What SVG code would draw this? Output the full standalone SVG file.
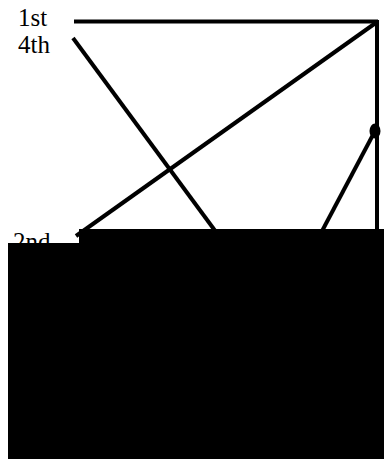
<svg xmlns="http://www.w3.org/2000/svg" width="384" height="461" viewBox="0 0 384 461">
<style>
.lbl{font-family:"Liberation Serif","Times New Roman",serif;font-size:25px;fill:#000}
.ln{stroke:#000;stroke-width:4;fill:none;stroke-linecap:butt}
</style>
<rect width="384" height="461" fill="#fff"/>
<g id="label-1st"><text class="lbl" x="18" y="26">1st</text></g>
<g id="label-4th"><text class="lbl" x="18" y="53">4th</text></g>
<g id="label-2nd"><text class="lbl" x="13" y="249.5">2nd</text></g>
<g id="connectors">
<line class="ln" x1="74" y1="21.5" x2="378" y2="21.5"/>
<line class="ln" x1="377" y1="20" x2="377" y2="232"/>
<line class="ln" x1="377" y1="22" x2="76" y2="236"/>
<line class="ln" x1="73" y1="38" x2="216" y2="232"/>
<line class="ln" x1="375" y1="131" x2="321" y2="233"/>
</g>
<g id="dot"><ellipse cx="375" cy="131" rx="5.5" ry="7.5" fill="#000"/></g>
<g id="mask"><path d="M8,243 H79 V229 H384 V459 H8 Z" fill="#000"/></g>
</svg>
